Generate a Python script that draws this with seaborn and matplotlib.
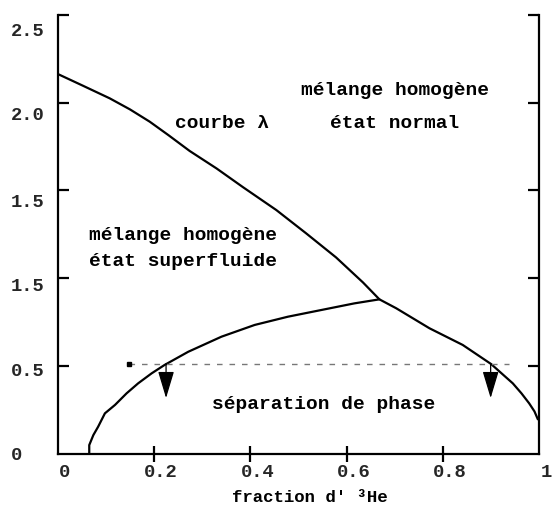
import matplotlib
matplotlib.use("Agg")
import matplotlib.pyplot as plt
import matplotlib.transforms as mtransforms
import seaborn as sns

# Lambda line: 3He fraction vs temperature (K)
lambda_x = [0.0, 0.050, 0.108, 0.150, 0.191, 0.230, 0.274, 0.330, 0.385, 0.454,
            0.516, 0.578, 0.634, 0.668]
lambda_T = [2.164, 2.100, 2.025, 1.962, 1.892, 1.815, 1.725, 1.625, 1.518, 1.388,
            1.255, 1.118, 0.975, 0.879]

# Phase-separation boundary (both branches meet at the tricritical point)
sep_x = [0.0655, 0.0655, 0.074, 0.084, 0.098, 0.119, 0.143, 0.167, 0.195, 0.222,
         0.271, 0.340, 0.409, 0.478, 0.547, 0.616, 0.668, 0.703, 0.772, 0.841,
         0.900, 0.945, 0.963, 0.979, 0.990, 0.997]
sep_T = [0.0, 0.048, 0.105, 0.153, 0.229, 0.277, 0.343, 0.400, 0.457, 0.505,
         0.580, 0.666, 0.733, 0.780, 0.818, 0.856, 0.879, 0.828, 0.714, 0.619,
         0.510, 0.400, 0.343, 0.286, 0.240, 0.195]

# Cooling path at constant temperature and the two resulting phases
path_x = [0.148, 0.938]
path_T = 0.513
arrow_x = [0.225, 0.899]
arrow_tip_T = 0.316

# Axis ticks and labels
x_ticks = [0.0, 0.2, 0.4, 0.6, 0.8, 1.0]
x_labels = ["0", "0.2", "0.4", "0.6", "0.8", "1"]
y_marks = [0.0, 0.5, 1.0, 1.5, 2.0, 2.5]
y_label_pos = [0.0, 0.48, 0.966, 1.445, 1.941, 2.42]
y_labels = ["0", "0.5", "1.5", "1.5", "2.0", "2.5"]

# Region annotations
regions = [
    (0.341, 1.884, "courbe λ"),
    (0.700, 2.067, "mélange homogène"),
    (0.700, 1.884, "état normal"),
    (0.260, 1.245, "mélange homogène"),
    (0.260, 1.092, "état superfluide"),
    (0.553, 0.277, "séparation de phase"),
]

sns.set_theme(style="white")
plt.rcParams["font.family"] = ["Liberation Mono", "DejaVu Sans"]
plt.rcParams["font.weight"] = "bold"

fig = plt.figure(figsize=(5.57, 5.11), dpi=100)
ax = fig.add_axes([0.1036, 0.1125, 0.8646, 0.8581])

sns.lineplot(x=lambda_x, y=lambda_T, sort=False, estimator=None,
             color="black", lw=1.6, ax=ax)
sns.lineplot(x=sep_x, y=sep_T, sort=False, estimator=None,
             color="black", lw=1.6, ax=ax)

ax.plot(path_x, [path_T, path_T], ls=(0, (4, 5)), color="#777777", lw=1.0)
ax.plot([path_x[0]], [path_T], marker="s", ms=2.5, color="black")
for xa in arrow_x:
    ax.annotate("", xy=(xa, arrow_tip_T), xytext=(xa, path_T),
                arrowprops=dict(arrowstyle="-|>,head_length=1.4,head_width=0.42",
                                color="black", lw=0.9, shrinkA=0, shrinkB=0))

for xt, yt, s in regions:
    ax.text(xt, yt, s, ha="center", va="center", fontsize=14, fontweight="bold",
            color="black")

ax.set_xlim(0, 1)
ax.set_ylim(0, 2.5)

for side in ["left", "right", "bottom"]:
    ax.spines[side].set_visible(True)
    ax.spines[side].set_color("black")
    ax.spines[side].set_linewidth(1.6)
ax.spines["top"].set_visible(False)

# x axis
ax.set_xticks(x_ticks)
ax.set_xticklabels(x_labels, fontsize=13.5, fontweight="bold")
ax.tick_params(axis="x", direction="inout", length=11.5, width=1.6,
               color="black", pad=2, bottom=True)
ticks = ax.xaxis.get_major_ticks()
ticks[0].tick1line.set_visible(False)
ticks[-1].tick1line.set_visible(False)
offset = mtransforms.ScaledTranslation(7 / 100, 0, fig.dpi_scale_trans)
for lab in ax.get_xticklabels():
    lab.set_transform(lab.get_transform() + offset)

ax.set_xlabel("fraction d' ³He", fontsize=12.5, fontweight="bold", color="black")
ax.xaxis.set_label_coords(0.524, -0.083)

# y axis: tick marks as minor ticks, labels as major ticks
ax.set_yticks(y_marks, minor=True)
ax.set_yticks(y_label_pos)
ax.set_yticklabels(y_labels, fontsize=13.5, fontweight="bold")
ax.tick_params(axis="y", which="minor", direction="in", length=8, width=1.6,
               color="black", left=True, right=True)
ax.tick_params(axis="y", which="major", length=0, pad=33.6, left=True, right=False)
for lab in ax.get_yticklabels():
    lab.set_horizontalalignment("left")

ax.grid(False)
fig.savefig("out.png", dpi=100, facecolor="white")
